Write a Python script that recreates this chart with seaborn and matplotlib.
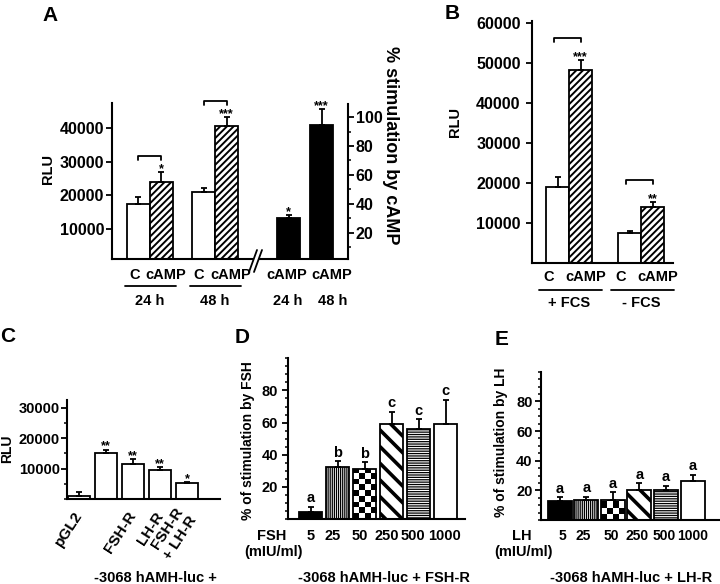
import numpy as np
import pandas as pd
import matplotlib
matplotlib.use("Agg")
import matplotlib.pyplot as plt
import matplotlib.transforms as mtransforms
from matplotlib.path import Path
from matplotlib.patches import PathPatch
from matplotlib.ticker import MultipleLocator
import seaborn as sns

# panel A: RLU (left axis) and % stimulation (right axis)
a_time = ["24 h", "48 h"]
a_ctrl = [17500, 21000]
a_ctrl_err = [2000, 1200]
a_camp = [24000, 40500]
a_camp_err = [2800, 2800]
a_camp_sig = ["*", "***"]
a_stim = [30.5, 94.5]
a_stim_err = [2, 11]
a_stim_sig = ["*", "***"]

# panel B
b_serum = ["+ FCS", "- FCS"]
b_ctrl = [18900, 7500]
b_ctrl_err = [2500, 500]
b_camp = [48200, 13900]
b_camp_err = [2600, 1300]
b_sig = ["***", "**"]

# panel C
c_labels = ["pGL2", "", "FSH-R", "LH-R", "FSH-R\n+ LH-R"]
c_rlu = [1000, 15200, 11600, 9400, 5100]
c_err = [1200, 1000, 1400, 1100, 500]
c_sig = ["", "**", "**", "**", "*"]

# panels D and E
doses = ["5", "25", "50", "250", "500", "1000"]
d_fsh = [4.3, 32.3, 31.1, 58.9, 55.8, 58.9]
d_err = [3.4, 3.5, 4.1, 7.8, 6.2, 15.4]
d_letters = ["a", "b", "b", "c", "c", "c"]
e_lh = [13.0, 13.7, 13.7, 20.4, 20.4, 26.1]
e_err = [2.3, 2.0, 4.9, 4.5, 2.7, 4.4]
e_letters = ["a", "a", "a", "a", "a", "a"]

sns.set_style("ticks", {"axes.edgecolor": "black", "text.color": "black",
                        "xtick.color": "black", "ytick.color": "black",
                        "axes.labelcolor": "black"})
plt.rcParams.update({
    "font.family": ["Liberation Sans", "DejaVu Sans"],
    "font.weight": "bold",
    "axes.linewidth": 1.5,
    "ytick.major.width": 1.3, "ytick.minor.width": 1.1,
    "ytick.major.size": 4, "ytick.minor.size": 2.5,
    "xtick.major.size": 0,
    "hatch.color": "black",
})

W, H = 720, 584
fig = plt.figure(figsize=(7.2, 5.84), dpi=100)


def box(x0, y0, x1, y1):
    ax = fig.add_axes([x0 / W, 1 - y1 / H, (x1 - x0) / W, (y1 - y0) / H])
    return ax


def fy(py):
    return 1 - py / H


def ftext(px, py, s, **kw):
    fig.text(px / W, fy(py), s, **kw)


def centers(bars):
    return [b.get_x() + b.get_width() / 2 for b in bars]


def up_err(ax, bars, errs):
    ax.errorbar(centers(bars), [b.get_height() for b in bars],
                yerr=[np.zeros(len(errs)), errs], fmt="none", ecolor="black",
                elinewidth=1.3, capsize=2.5, capthick=1.3)
    return [b.get_height() + e for b, e in zip(bars, errs)]


def marks(ax, xs, ys, labels, size=9, off=0, va="baseline"):
    for x, y, s in zip(xs, ys, labels):
        ax.annotate(s, (x, y), xytext=(0, off), textcoords="offset points",
                    ha="center", va=va, fontsize=size, annotation_clip=False)


def px2dy(ax, px):
    y0, y1 = ax.get_ylim()
    return px * (y1 - y0) / (ax.get_position().height * H)


def bracket(ax, x0, x1, y, rise=18, drop=4):
    top = y + px2dy(ax, rise)
    low = top - px2dy(ax, drop)
    ax.plot([x0, x0, x1, x1], [low, top, top, low], color="black", lw=1.3,
            clip_on=False)


def bar_labels(ax, bars, labels, y_px, shifts, size=10.5):
    # labels under single bars, nudged sideways by a few pixels
    tr = mtransforms.blended_transform_factory(ax.transData, fig.transFigure)
    ax.set_xticks([])
    for x, lab, dx in zip(centers(bars), labels, shifts):
        ax.annotate(lab, (x, fy(y_px)), xycoords=tr, xytext=(dx * 0.72, 0),
                    textcoords="offset points", ha="center", va="center",
                    fontsize=size, annotation_clip=False)


def group_labels(ax, groups, labels, y_text, y_line=None, ext=(0, 0), size=10.5):
    tr = mtransforms.blended_transform_factory(ax.transData, fig.transFigure)
    for bars, lab in zip(groups, labels):
        left = min(b.get_x() for b in bars)
        right = max(b.get_x() + b.get_width() for b in bars)
        if y_line is not None:
            ax.plot([left - ext[0], right + ext[1]], [fy(y_line)] * 2, transform=tr,
                    color="black", lw=1.3, clip_on=False)
        ax.text((left + right) / 2, fy(y_text), lab, transform=tr, ha="center",
                va="center", fontsize=size)


def brace(ax, x0, x1, y_px, depth=9, r=0.3):
    tr = mtransforms.blended_transform_factory(ax.transData, fig.transFigure)
    xm = (x0 + x1) / 2
    yt, ym, yb = fy(y_px), fy(y_px + depth / 2), fy(y_px + depth)
    verts = [(x0, yt), (x0, ym), (x0 + r, ym), (xm - r, ym), (xm, ym), (xm, yb),
             (xm, ym), (xm + r, ym), (x1 - r, ym), (x1, ym), (x1, yt)]
    codes = [Path.MOVETO, Path.CURVE3, Path.CURVE3, Path.LINETO, Path.CURVE3,
             Path.CURVE3, Path.CURVE3, Path.CURVE3, Path.LINETO, Path.CURVE3,
             Path.CURVE3]
    ax.add_artist(PathPatch(Path(verts, codes), transform=tr, fill=False, lw=1.3,
                            clip_on=False))


def hatch(bar, pattern, lw):
    bar.set_hatch(pattern)
    if hasattr(bar, "set_hatch_linewidth"):
        bar.set_hatch_linewidth(lw)
    else:
        bar._hatch_linewidth = lw


def checker(ax, bar, ncol=4):
    xl, yl = ax.get_xlim(), ax.get_ylim()
    bb = bar.get_window_extent()
    sq = bb.width / ncol
    nrow = int(np.ceil(bb.height / sq))
    grid = np.add.outer(np.arange(nrow), np.arange(ncol)) % 2
    top = bar.get_height() * nrow * sq / bb.height
    im = ax.imshow(grid, cmap="gray", extent=(bar.get_x(), bar.get_x() + bar.get_width(), 0, top),
                   origin="lower", interpolation="nearest", aspect="auto", zorder=0.9)
    im.set_clip_path(bar)
    bar.set_facecolor("none")
    ax.set_xlim(xl)
    ax.set_ylim(yl)


def clean(ax, left=True, right=False):
    ax.set_xlabel("")
    ax.set_ylabel("")
    ax.spines["top"].set_visible(False)
    ax.spines["right"].set_visible(right)
    ax.spines["left"].set_visible(left)


bar_kw = dict(edgecolor="black", linewidth=1.3, saturation=1, errorbar=None)

# ---------------- A (left part) ----------------
ax = box(112, 103, 253, 259)
df_a = pd.DataFrame({"time": a_time * 2, "treat": ["C"] * 2 + ["cAMP"] * 2,
                     "rlu": a_ctrl + a_camp})
sns.barplot(df_a, x="time", y="rlu", hue="treat", palette=["white", "white"],
            width=0.7, legend=False, ax=ax, **bar_kw)
ctrl, camp = list(ax.containers[0]), list(ax.containers[1])
for b in camp:
    hatch(b, "/////", 1.4)
clean(ax)
ax.set_xlim(-0.58, 1.58)
ax.set_ylim(1000, 47500)
ax.set_yticks([10000, 20000, 30000, 40000])
ax.tick_params(axis="y", labelsize=11.5, pad=1.5)
bar_labels(ax, ctrl, ["C"] * 2, 275, [-4, -5])
bar_labels(ax, camp, ["cAMP"] * 2, 275, [4, 4])
up_err(ax, ctrl, a_ctrl_err)
tops = up_err(ax, camp, a_camp_err)
for c0, c1, t in zip(centers(ctrl), centers(camp), tops):
    bracket(ax, c0, c1, t, rise=16)
marks(ax, centers(camp), tops, a_camp_sig)
group_labels(ax, list(zip(ctrl, camp)), a_time, 301, y_line=286, ext=(0.03, 0.05))
ftext(48, 169, "RLU", rotation=90, ha="center", va="center", fontsize=10.5)

# ---------------- A (right part, % stimulation) ----------------
ax2 = box(260, 104, 348, 259)
sns.barplot(x=a_time, y=a_stim, color="black", width=0.7, ax=ax2, **bar_kw)
stim = list(ax2.containers[0])
clean(ax2, left=False, right=True)
ax2.yaxis.tick_right()
ax2.set_xlim(-0.865, 1.80)
ax2.set_ylim(2, 109)
ax2.set_yticks([20, 40, 60, 80, 100])
ax2.yaxis.set_minor_locator(MultipleLocator(10))
ax2.tick_params(axis="y", which="both", labelsize=11.5, pad=1.5)
bar_labels(ax2, stim, ["cAMP"] * 2, 275, [-2, 10])
tops = up_err(ax2, stim, a_stim_err)
marks(ax2, centers(stim), tops, a_stim_sig)
bar_labels(ax2, stim, a_time, 301, [-1, 11])
ftext(390, 145, "% stimulation by cAMP", rotation=270, ha="center", va="center",
      fontsize=13)
for x0 in (249, 254):
    fig.add_artist(plt.Line2D([x0 / W, (x0 + 8) / W], [fy(272), fy(250)],
                              color="black", lw=1.3))

# ---------------- B ----------------
ax = box(531.7, 21, 673, 263)
df_b = pd.DataFrame({"serum": b_serum * 2, "treat": ["C"] * 2 + ["cAMP"] * 2,
                     "rlu": b_ctrl + b_camp})
sns.barplot(df_b, x="serum", y="rlu", hue="treat", palette=["white", "white"],
            width=0.64, legend=False, ax=ax, **bar_kw)
ctrl, camp = list(ax.containers[0]), list(ax.containers[1])
for b in camp:
    hatch(b, "/////", 1.4)
clean(ax)
ax.set_xlim(-0.52, 1.44)
ax.set_ylim(0, 60500)
ax.set_yticks([10000, 20000, 30000, 40000, 50000, 60000])
ax.tick_params(axis="y", labelsize=11.5, pad=4)
bar_labels(ax, ctrl, ["C"] * 2, 277, [-9, -9])
bar_labels(ax, camp, ["cAMP"] * 2, 277, [5, 5])
up_err(ax, ctrl, b_ctrl_err)
tops = up_err(ax, camp, b_camp_err)
for c0, c1, t in zip(centers(ctrl), centers(camp), tops):
    bracket(ax, c0 - 0.05, c1, t, rise=22)
marks(ax, centers(camp), tops, b_sig)
group_labels(ax, list(zip(ctrl, camp)), b_serum, 303, y_line=290, ext=(0.1, 0.13))
ftext(455, 122, "RLU", rotation=90, ha="center", va="center", fontsize=10.5)

# ---------------- C ----------------
ax = box(66.7, 400, 220, 499)
sns.barplot(x=list(range(len(c_rlu))), y=c_rlu, color="white", width=0.83, ax=ax,
            **bar_kw)
bars = list(ax.containers[0])
clean(ax)
ax.set_xlim(-0.46, 5.22)
ax.set_ylim(0, 32500)
ax.set_yticks([10000, 20000, 30000])
ax.yaxis.set_minor_locator(MultipleLocator(5000))
ax.tick_params(axis="y", which="both", labelsize=10.5, pad=1)
ax.set_xticks(centers(bars))
ax.set_xticklabels(c_labels, rotation=57, ha="right", va="center",
                   rotation_mode="anchor", fontsize=11)
ax.tick_params(axis="x", pad=10)
tops = up_err(ax, bars, c_err)
marks(ax, centers(bars), tops, c_sig)
brace(ax, 0.67, 4.19, 554)
ftext(155, 578, "-3068 hAMH-luc +", ha="center", va="center", fontsize=10.5)
ftext(7, 449, "RLU", rotation=90, ha="center", va="center", fontsize=10)

# ---------------- D and E ----------------
fills = ["black", "white", "white", "white", "white", "white"]
patterns = ["", "||||||||", "checker", "\\\\", "-------", ""]


def dose_panel(rect, vals, errs, letters, xlim, pad, hormone, label_x, ylabel, ylabel_x,
               ylabel_y, brace_x, text_x, shifts, tick_size):
    ax = box(*rect)
    sns.barplot(x=doses, y=vals, palette=fills, hue=doses, legend=False,
                width=xlim[2], ax=ax, **bar_kw)
    bars = sorted([b for c in ax.containers for b in c], key=lambda b: b.get_x())
    clean(ax)
    ax.set_xlim(xlim[0], xlim[1])
    ax.set_ylim(0, 100)
    ax.set_yticks([20, 40, 60, 80])
    ax.yaxis.set_minor_locator(MultipleLocator(5))
    ax.tick_params(axis="y", which="both", labelsize=10.5, pad=pad)
    bar_labels(ax, bars, doses, 536, shifts, size=tick_size)
    for b, p in zip(bars, patterns):
        if p == "checker":
            checker(ax, b)
        elif p.startswith("\\"):
            hatch(b, p, 2.6)
        elif p:
            hatch(b, p, 0.9)
    tops = up_err(ax, bars, errs)
    marks(ax, centers(bars), tops, letters, size=10.5, off=1, va="bottom")
    brace(ax, brace_x[0], brace_x[1], 554)
    ftext(text_x, 578, "-3068 hAMH-luc + " + hormone + "-R", ha="center",
          va="center", fontsize=10.5)
    ftext(label_x, 536, hormone, ha="center", va="center", fontsize=10.5)
    ftext(label_x + 2, 552, "(mIU/ml)", ha="center", va="center", fontsize=10.5)
    ftext(ylabel_x, ylabel_y, ylabel, rotation=90, ha="center", va="center",
          fontsize=10)


dose_panel((288.3, 358.3, 465, 519), d_fsh, d_err, d_letters, (-0.84, 5.72, 0.855),
           3.5, "FSH", 271.7, "% of stimulation by FSH", 248, 441, (-0.04, 5.28), 384,
           [0, -5, -5, -5, -6, -1], 10.5)
dose_panel((541, 371.7, 720, 520), e_lh, e_err, e_letters, (-0.70, 6.03, 0.9),
           2, "LH", 521.7, "% of stimulation by LH", 501, 442, (-0.05, 5.27), 631,
           [3, -3, -2, -2, -2, 0], 10)

# panel letters
for x, y, s in [(42, 21, "A"), (445, 19, "B"), (0, 342, "C"), (235, 343, "D"),
                (495, 345, "E")]:
    ftext(x, y, s, ha="left", va="baseline", fontsize=15)

fig.savefig("out.png", dpi=100)
